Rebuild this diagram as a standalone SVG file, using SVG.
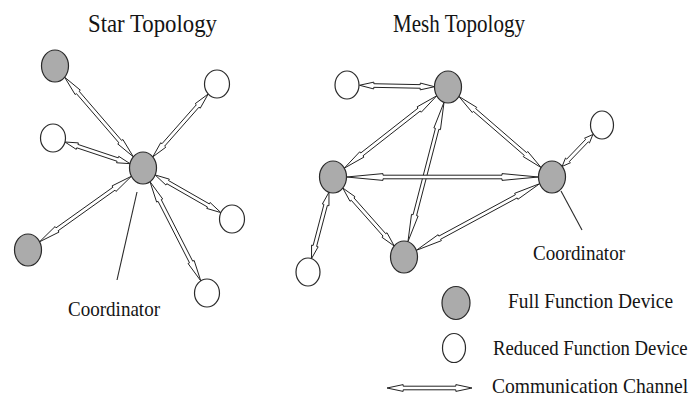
<svg xmlns="http://www.w3.org/2000/svg" xmlns:xlink="http://www.w3.org/1999/xlink" width="696" height="401" viewBox="0 0 696 401">
<style>
.t{font-family:"Liberation Serif","Times New Roman",serif;fill:#141414}
.ffd{fill:#ababab;stroke:#2a2a2a;stroke-width:1.2}
.rfd{fill:#fff;stroke:#2a2a2a;stroke-width:1.2}
.ptr{stroke:#2a2a2a;stroke-width:1.1;fill:none}
</style>
<defs>
<path id="ch" d="M0,0 L0.19,-3.4 L0.19,-1.8 L0.81,-1.8 L0.81,-3.4 L1,0 L0.81,3.4 L0.81,1.8 L0.19,1.8 L0.19,3.4 Z" fill="#fff" stroke="#222" stroke-width="1" stroke-linejoin="miter" vector-effect="non-scaling-stroke"/>
</defs>
<rect width="696" height="401" fill="#fff"/>
<text class="t" x="88" y="32" font-size="26" textLength="129" lengthAdjust="spacingAndGlyphs">Star Topology</text>
<text class="t" x="393" y="32" font-size="26" textLength="132" lengthAdjust="spacingAndGlyphs">Mesh Topology</text>
<g id="connectors">
<use xlink:href="#ch" transform="translate(133.35,156.81) rotate(-130.8) scale(105.1,1)"/>
<use xlink:href="#ch" transform="translate(152.75,156.92) rotate(-48.6) scale(83.87,1)"/>
<use xlink:href="#ch" transform="translate(130,163.67) rotate(-161.57) scale(68.54,1)"/>
<use xlink:href="#ch" transform="translate(131.43,176.26) rotate(144.5) scale(112.8,1)"/>
<use xlink:href="#ch" transform="translate(155.16,174.96) rotate(29.8) scale(75.76,1)"/>
<use xlink:href="#ch" transform="translate(150.01,181.68) rotate(62.9) scale(111.4,1)"/>
<use xlink:href="#ch" transform="translate(434.5,86.73) rotate(181.13) scale(75,1)"/>
<use xlink:href="#ch" transform="translate(436.72,95.82) rotate(141.95) scale(117.4,1)"/>
<use xlink:href="#ch" transform="translate(444.03,102.29) rotate(104.51) scale(144,1)"/>
<use xlink:href="#ch" transform="translate(458.9,96.45) rotate(40.87) scale(108.7,1)"/>
<use xlink:href="#ch" transform="translate(562.15,166.44) rotate(-46.12) scale(44.28,1)"/>
<use xlink:href="#ch" transform="translate(346.5,177) rotate(0) scale(192,1)"/>
<use xlink:href="#ch" transform="translate(342.79,188.03) rotate(48.42) scale(77.48,1)"/>
<use xlink:href="#ch" transform="translate(328.98,192.28) rotate(104.74) scale(68.54,1)"/>
<use xlink:href="#ch" transform="translate(416.28,250.36) rotate(-28.39) scale(140.3,1)"/>
<line class="ptr" x1="137" y1="192" x2="117" y2="280"/>
<line class="ptr" x1="561" y1="191" x2="582" y2="230"/>
</g>
<g id="star-coordinator"><ellipse class="ffd" cx="143" cy="168" rx="13.5" ry="16"/></g>
<g id="star-ffd-1"><ellipse class="ffd" cx="55" cy="66" rx="13.5" ry="16"/></g>
<g id="star-ffd-2"><ellipse class="ffd" cx="28" cy="250" rx="13.5" ry="16"/></g>
<g id="star-rfd-1"><ellipse class="rfd" cx="217" cy="84" rx="12.5" ry="14"/></g>
<g id="star-rfd-2"><ellipse class="rfd" cx="53" cy="138" rx="12.5" ry="14"/></g>
<g id="star-rfd-3"><ellipse class="rfd" cx="232" cy="219" rx="12.5" ry="14"/></g>
<g id="star-rfd-4"><ellipse class="rfd" cx="207" cy="293" rx="12.5" ry="14"/></g>
<g id="mesh-rfd-1"><ellipse class="rfd" cx="347" cy="85" rx="12" ry="14"/></g>
<g id="mesh-ffd-1"><ellipse class="ffd" cx="448" cy="87" rx="13.5" ry="16"/></g>
<g id="mesh-rfd-2"><ellipse class="rfd" cx="602" cy="125" rx="11.5" ry="14"/></g>
<g id="mesh-ffd-2"><ellipse class="ffd" cx="333" cy="177" rx="13.5" ry="16"/></g>
<g id="mesh-coordinator"><ellipse class="ffd" cx="552" cy="177" rx="13.5" ry="16"/></g>
<g id="mesh-ffd-3"><ellipse class="ffd" cx="404" cy="257" rx="13.5" ry="16"/></g>
<g id="mesh-rfd-3"><ellipse class="rfd" cx="308" cy="272" rx="12" ry="14"/></g>
<text class="t" x="68" y="316" font-size="21" textLength="92" lengthAdjust="spacingAndGlyphs">Coordinator</text>
<text class="t" x="533" y="260" font-size="21" textLength="92" lengthAdjust="spacingAndGlyphs">Coordinator</text>
<g id="legend">
<ellipse class="ffd" cx="456" cy="303" rx="14" ry="16.5"/>
<text class="t" x="508" y="308" font-size="22" textLength="165" lengthAdjust="spacingAndGlyphs">Full Function Device</text>
<ellipse class="rfd" cx="454" cy="348" rx="11.5" ry="14.5"/>
<text class="t" transform="translate(493,355) scale(0.85,1)" x="0" y="0" font-size="22" textLength="229" lengthAdjust="spacingAndGlyphs">Reduced Function Device</text>
<use xlink:href="#ch" transform="translate(387,388) scale(85,1)"/>
<text class="t" transform="translate(492,393) scale(0.88,1)" x="0" y="0" font-size="22" textLength="223" lengthAdjust="spacingAndGlyphs">Communication Channel</text>
</g>
</svg>
